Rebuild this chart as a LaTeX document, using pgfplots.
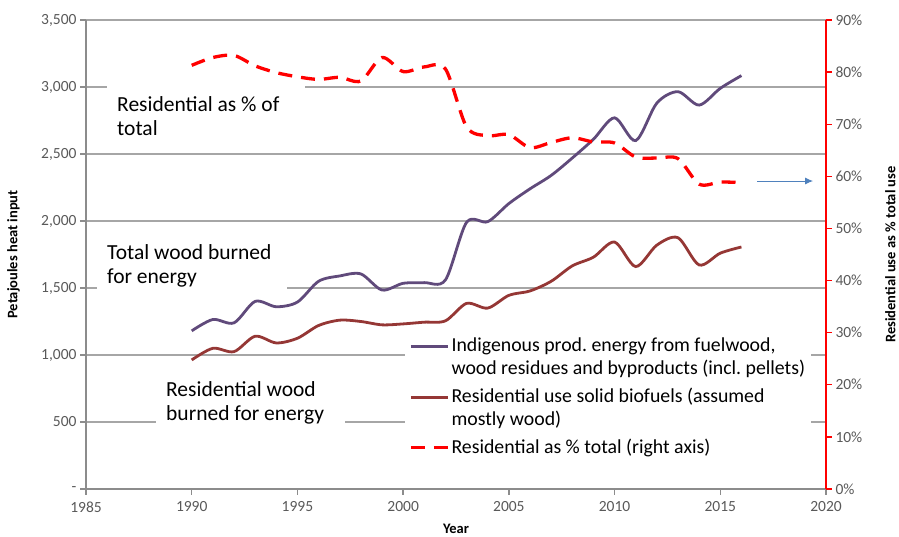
\documentclass[border=0pt]{standalone}
\usepackage{pgfplots}
\pgfplotsset{compat=1.18}
\usepackage{fontspec}
\setmainfont{Carlito}
\usetikzlibrary{arrows.meta}
\definecolor{gridgray}{HTML}{A6A6A6}
\definecolor{axgray}{HTML}{8C8C8C}
\definecolor{ticktext}{HTML}{595959}
\definecolor{indig}{HTML}{604A7B}
\definecolor{resid}{HTML}{953735}
\definecolor{arrowblue}{HTML}{4F81BD}
\begin{document}
\frenchspacing
\begin{tikzpicture}
\path[use as bounding box] (-86pt,-48pt) rectangle (813pt,489pt);
\begin{axis}[
  at={(0,0)}, anchor=south west,
  scale only axis, width=740pt, height=469pt,
  xmin=1985, xmax=2020, ymin=0, ymax=3500,
  axis x line*=bottom, axis y line*=left,
  axis line style={axgray, line width=1.3pt, -},
  xtick={1985,1990,...,2020},
  ytick={0,500,...,3500},
  yticklabels={-,500,{1,000},{1,500},{2,000},{2,500},{3,000},{3,500}},
  /pgf/number format/assume math mode=true,
  /pgf/number format/1000 sep={},
  tick align=outside, major tick length=6pt,
  tick style={axgray, line width=1.3pt},
  tick label style={font=\fontsize{15.5}{18}\selectfont, text=ticktext},
  xticklabel style={yshift=-3pt},
  ymajorgrids, grid style={gridgray, line width=1.3pt},
  xlabel={Year}, ylabel={Petajoules heat input},
  label style={font=\fontsize{14.5}{17}\selectfont\bfseries, inner sep=0pt},
  xlabel style={at={([yshift=-35pt]axis description cs:0.5,0)}, anchor=north},
  ylabel style={at={([xshift=-66pt]axis description cs:0,0.5)}, anchor=south},
]
\addplot[indig, line width=2.8pt, smooth] coordinates {
(1990,1180) (1991,1265) (1992,1240) (1993,1400) (1994,1360) (1995,1395)
(1996,1550) (1997,1590) (1998,1605) (1999,1485) (2000,1535) (2001,1540)
(2002,1560) (2003,1990) (2004,1995) (2005,2130) (2006,2240) (2007,2340)
(2008,2470) (2009,2610) (2010,2770) (2011,2600) (2012,2880) (2013,2965)
(2014,2865) (2015,2990) (2016,3085)};
\addplot[resid, line width=2.8pt, smooth] coordinates {
(1990,963) (1991,1050) (1992,1025) (1993,1140) (1994,1090) (1995,1125)
(1996,1220) (1997,1260) (1998,1250) (1999,1225) (2000,1232) (2001,1245)
(2002,1255) (2003,1385) (2004,1350) (2005,1445) (2006,1478) (2007,1550)
(2008,1665) (2009,1730) (2010,1843) (2011,1660) (2012,1820) (2013,1875)
(2014,1672) (2015,1760) (2016,1806)};
\end{axis}
\begin{axis}[
  at={(0,0)}, anchor=south west,
  scale only axis, width=740pt, height=469pt,
  xmin=1985, xmax=2020, ymin=0, ymax=90,
  axis y line*=right, axis x line=none,
  axis line style={red, line width=1.3pt, -},
  ytick={0,10,...,90},
  yticklabel={\pgfmathprintnumber{\tick}\%},
  /pgf/number format/assume math mode=true,
  tick align=outside, major tick length=6pt,
  tick style={red, line width=1.3pt},
  tick label style={font=\fontsize{15.5}{18}\selectfont, text=ticktext},
  ylabel={Residential use as \% total use},
  ylabel style={font=\fontsize{14.5}{17}\selectfont\bfseries, inner sep=0pt,
    at={([xshift=59pt]axis description cs:1,0.5)}, anchor=north},
  legend style={at={(rel axis cs:0.4311,0.3305)}, anchor=north west, draw=none, fill=white,
    inner xsep=4pt, inner ysep=2pt, row sep=8.5pt,
    font=\fontsize{19.8}{22.5}\selectfont\frenchspacing, cells={anchor=west, align=flush left}},
  legend image code/.code={\draw[#1] (0pt,0pt) -- (37pt,0pt);},
]
\addlegendimage{indig, line width=3pt, yshift=10.5pt}
\addlegendentry{Indigenous prod. energy from fuelwood,\\wood residues and byproducts (incl. pellets)}
\addlegendimage{resid, line width=3pt, yshift=10.5pt}
\addlegendentry{Residential use solid biofuels (assumed\\mostly wood)}
\addplot[red, line width=3.3pt, dash pattern=on 14pt off 9pt, smooth] coordinates {
(1990,81.3) (1991,82.8) (1992,83.2) (1993,81.2) (1994,79.9) (1995,79.1)
(1996,78.6) (1997,79.0) (1998,78.3) (1999,82.8) (2000,80.1) (2001,81.0)
(2002,80.6) (2003,69.5) (2004,67.8) (2005,68.0) (2006,65.5) (2007,66.5)
(2008,67.4) (2009,66.6) (2010,66.4) (2011,63.7) (2012,63.5) (2013,63.4)
(2014,58.5) (2015,58.9) (2016,58.8)};
\addlegendentry{Residential as \% total (right axis)}
\node[anchor=north west, fill=white, inner xsep=10pt, inner ysep=12pt, text width=178pt, align=flush left,
  font=\fontsize{21.5}{24.5}\selectfont] at (axis cs:1985.993,77.71) {Residential as \% of\\total};
\node[anchor=north west, fill=white, inner xsep=10pt, inner ysep=6pt, text width=170pt, align=flush left,
  font=\fontsize{21.5}{24.5}\selectfont] at (axis cs:1985.52,48.17) {Total wood burned\\for energy};
\node[anchor=north west, fill=white, inner xsep=10pt, inner ysep=6pt, text width=169pt, align=flush left,
  font=\fontsize{21.5}{24.5}\selectfont] at (axis cs:1988.31,21.88) {Residential wood\\burned for energy};
\draw[arrowblue, line width=1pt, -{Latex[length=8pt,width=7pt]}] (axis cs:2016.74,59.1) -- (axis cs:2019.39,59.1);
\end{axis}
\end{tikzpicture}
\end{document}
